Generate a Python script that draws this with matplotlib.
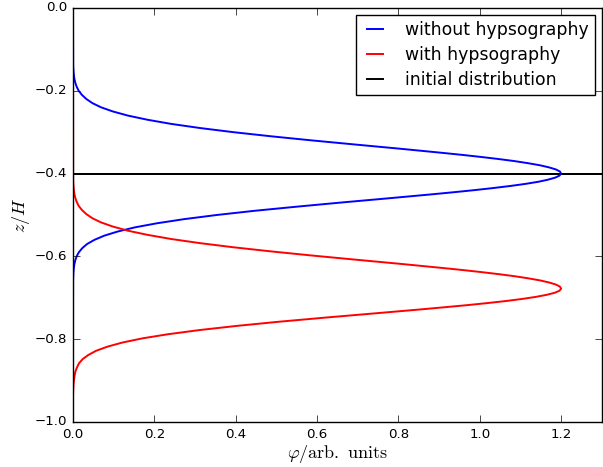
import matplotlib
matplotlib.use("Agg")
import matplotlib.pyplot as plt

# vertical profiles: depth z/H and concentration phi (arb. units)
blue_z = [0.0, -0.14, -0.15, -0.16, -0.17, -0.18, -0.19, -0.20, -0.21, -0.22, -0.23,
          -0.24, -0.25, -0.26, -0.27, -0.28, -0.29, -0.30, -0.31, -0.32, -0.33,
          -0.34, -0.35, -0.355, -0.36, -0.365, -0.37, -0.375, -0.38, -0.385, -0.39,
          -0.395, -0.40,
          -0.405, -0.41, -0.415, -0.42, -0.425, -0.43, -0.435, -0.44, -0.445,
          -0.45, -0.46, -0.47, -0.48, -0.49, -0.50,
          -0.51, -0.52, -0.53, -0.54, -0.55, -0.56, -0.57, -0.58, -0.59, -0.60,
          -0.61, -0.62, -0.63, -0.64, -0.65, -0.66, -1.0]
blue_phi = [0.0, 0.0005, 0.0011, 0.002, 0.0033, 0.0055, 0.009, 0.014, 0.022, 0.033, 0.048,
            0.069, 0.098, 0.135, 0.183, 0.241, 0.312, 0.394, 0.487, 0.588, 0.695,
            0.804, 0.908, 0.958, 1.004, 1.047, 1.086, 1.119, 1.148, 1.170, 1.187,
            1.197, 1.200,
            1.196, 1.185, 1.167, 1.143, 1.112, 1.075, 1.033, 0.987, 0.937,
            0.884, 0.773, 0.659, 0.550, 0.446, 0.354,
            0.274, 0.207, 0.152, 0.110, 0.077, 0.053, 0.035, 0.023, 0.0146, 0.009,
            0.0055, 0.0033, 0.0019, 0.0011, 0.0006, 0.0003, 0.0]

red_z = [0.0, -0.418, -0.428, -0.438, -0.448, -0.458, -0.468, -0.478, -0.488, -0.498,
         -0.508, -0.518, -0.528, -0.538, -0.548, -0.558, -0.568, -0.578, -0.588,
         -0.598, -0.608, -0.618, -0.628, -0.633, -0.638, -0.643, -0.648, -0.653,
         -0.658, -0.663, -0.668, -0.673, -0.678,
         -0.683, -0.688, -0.693, -0.698, -0.703, -0.708, -0.713, -0.718, -0.723,
         -0.728, -0.738, -0.748, -0.758, -0.768,
         -0.778, -0.788, -0.798, -0.808, -0.818, -0.828, -0.838, -0.848, -0.858,
         -0.868, -0.878, -0.888, -0.898, -0.908, -0.918, -0.928, -0.938, -1.0]
red_phi = [0.0, 0.0005, 0.0011, 0.002, 0.0033, 0.0055, 0.009, 0.014, 0.022, 0.033,
           0.048, 0.069, 0.098, 0.135, 0.183, 0.241, 0.312, 0.394, 0.487,
           0.588, 0.695, 0.804, 0.908, 0.958, 1.004, 1.047, 1.086, 1.119,
           1.148, 1.170, 1.187, 1.197, 1.200,
           1.196, 1.184, 1.164, 1.137, 1.103, 1.063, 1.017, 0.967, 0.912,
           0.856, 0.738, 0.619, 0.505, 0.402,
           0.311, 0.234, 0.171, 0.122, 0.085, 0.057, 0.038, 0.024, 0.015,
           0.010, 0.006, 0.004, 0.0025, 0.0015, 0.0008, 0.0004, 0.0, 0.0]

# initial condition: a spike at z/H = -0.4
init_z = [0.0, -0.4, -0.4, -0.4, -1.0]
init_phi = [0.0, 0.0, 10.0, 0.0, 0.0]

plt.style.use("classic")
plt.rcParams["mathtext.fontset"] = "cm"

fig = plt.figure(figsize=(6.03, 4.67), dpi=100, facecolor="white")
ax = fig.add_axes([0.121, 0.0964, 0.877, 0.8866])

ax.plot(blue_phi, blue_z, color="b", lw=1.4, label="without hypsography")
ax.plot(red_phi, red_z, color="r", lw=1.4, label="with hypsography")
ax.plot(init_phi, init_z, color="k", lw=1.4, zorder=1.9, label="initial distribution")

ax.set_xlim(0, 1.3)
ax.set_ylim(-1.0, 0.0)
ax.tick_params(labelsize=9.6, length=5)

ax.set_xlabel(r"$\varphi/\mathrm{arb.\ units}$", fontsize=13, labelpad=2)
ax.set_ylabel(r"$z/H$", fontsize=13, labelpad=2)

ax.legend(loc="upper right", fontsize=12.4, handlelength=1.5, borderpad=0.35,
          labelspacing=0.4, handletextpad=1.0, borderaxespad=0.4)

fig.savefig("out.png", dpi=100, facecolor="white")
